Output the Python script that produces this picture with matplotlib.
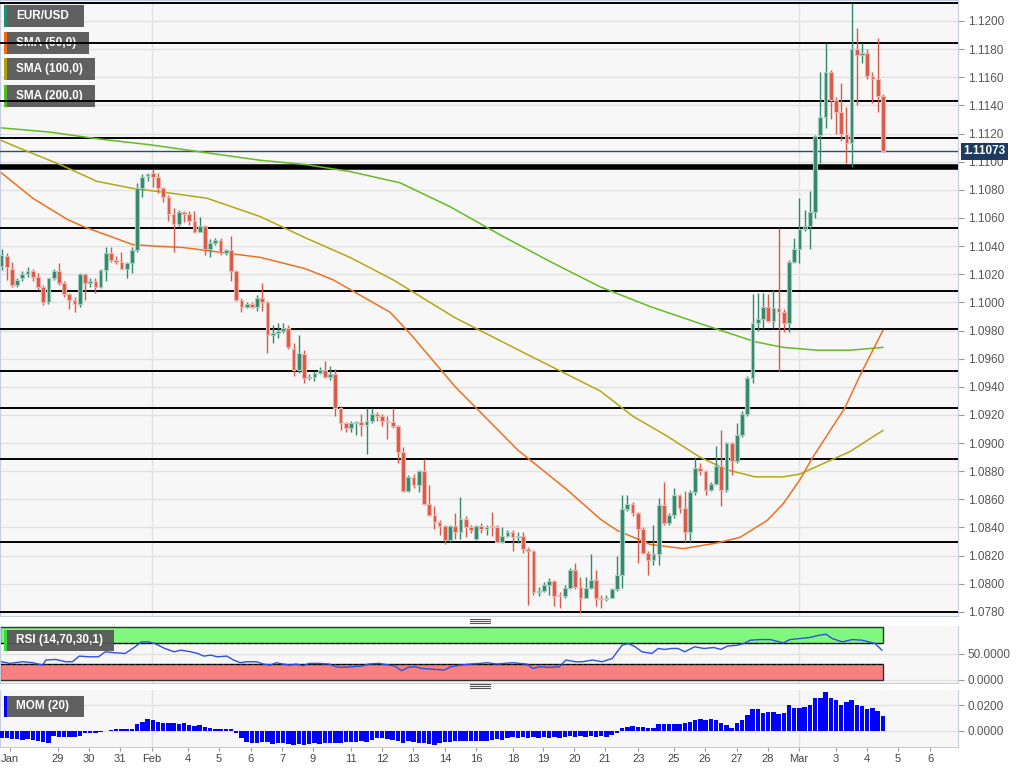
import matplotlib
matplotlib.use('Agg')
import matplotlib.pyplot as plt
import matplotlib.transforms as mtransforms
from matplotlib.patches import Rectangle
from matplotlib.lines import Line2D

plt.rcParams['font.family'] = ['Liberation Sans', 'DejaVu Sans']

# EUR/USD 4h candles (open, high, low, close)
opens = [1.1026, 1.1033, 1.1024, 1.1012, 1.1017, 1.1020, 1.1022, 1.1018, 1.1011, 1.1000,
         1.1017, 1.1022, 1.1014, 1.1006, 1.1002, 1.0999, 1.1020, 1.1014, 1.1015, 1.1011,
         1.1023, 1.1035, 1.1030, 1.1029, 1.1024, 1.1028, 1.1037, 1.1081, 1.1090, 1.1092,
         1.1089, 1.1081, 1.1075, 1.1063, 1.1056, 1.1064, 1.1063, 1.1058, 1.1050, 1.1054,
         1.1038, 1.1042, 1.1044, 1.1035, 1.1037, 1.1022, 1.1002, 1.0997, 1.0999, 1.0997,
         1.1003, 1.1000, 1.0977, 1.0978, 1.0980, 1.0982, 1.0967, 1.0952, 1.0963, 1.0946,
         1.0947, 1.0950, 1.0952, 1.0947, 1.0949, 1.0925, 1.0914, 1.0911, 1.0914, 1.0915,
         1.0913, 1.0916, 1.0921, 1.0919, 1.0916, 1.0915, 1.0912, 1.0894, 1.0866, 1.0876,
         1.0870, 1.0880, 1.0857, 1.0849, 1.0844, 1.0841, 1.0831, 1.0841, 1.0837, 1.0846,
         1.0840, 1.0832, 1.0841, 1.0839, 1.0841, 1.0840, 1.0830, 1.0834, 1.0837, 1.0833,
         1.0834, 1.0825, 1.0823, 1.0794, 1.0795, 1.0799, 1.0802, 1.0792, 1.0791, 1.0797,
         1.0810, 1.0798, 1.0790, 1.0797, 1.0803, 1.0790, 1.0789, 1.0790, 1.0796, 1.0806,
         1.0853, 1.0857, 1.0850, 1.0839, 1.0822, 1.0817, 1.0821, 1.0856, 1.0843, 1.0849,
         1.0863, 1.0854, 1.0837, 1.0865, 1.0882, 1.0880, 1.0867, 1.0871, 1.0884, 1.0867,
         1.0900, 1.0887, 1.0906, 1.0921, 1.0946, 1.0985, 1.0988, 1.0997, 1.0987, 1.0996,
         1.0993, 1.0985, 1.1029, 1.1038, 1.1052, 1.1054, 1.1064, 1.1119, 1.1132, 1.1164,
         1.1144, 1.1135, 1.1120, 1.1113, 1.1180, 1.1176, 1.1177, 1.1161, 1.1159, 1.1147]
highs = [1.1038, 1.1035, 1.1029, 1.1017, 1.1022, 1.1025, 1.1024, 1.1021, 1.1012, 1.1017,
         1.1024, 1.1028, 1.1015, 1.1007, 1.1004, 1.1021, 1.1021, 1.1017, 1.1017, 1.1024,
         1.1039, 1.1039, 1.1033, 1.1036, 1.1029, 1.1039, 1.1085, 1.1091, 1.1092, 1.1095,
         1.1092, 1.1082, 1.1076, 1.1067, 1.1066, 1.1065, 1.1065, 1.1065, 1.1061, 1.1055,
         1.1045, 1.1046, 1.1046, 1.1038, 1.1047, 1.1023, 1.1003, 1.1000, 1.1000, 1.1005,
         1.1014, 1.1001, 1.0984, 1.0985, 1.0985, 1.0984, 1.0971, 1.0977, 1.0966, 1.0949,
         1.0951, 1.0954, 1.0958, 1.0955, 1.0953, 1.0926, 1.0915, 1.0916, 1.0916, 1.0921,
         1.0925, 1.0925, 1.0922, 1.0921, 1.0919, 1.0925, 1.0913, 1.0897, 1.0877, 1.0878,
         1.0881, 1.0889, 1.0870, 1.0855, 1.0845, 1.0842, 1.0842, 1.0850, 1.0862, 1.0848,
         1.0842, 1.0842, 1.0843, 1.0842, 1.0851, 1.0842, 1.0840, 1.0838, 1.0838, 1.0837,
         1.0837, 1.0826, 1.0824, 1.0798, 1.0801, 1.0804, 1.0803, 1.0794, 1.0799, 1.0811,
         1.0815, 1.0805, 1.0805, 1.0821, 1.0810, 1.0792, 1.0792, 1.0797, 1.0820, 1.0863,
         1.0863, 1.0858, 1.0851, 1.0840, 1.0823, 1.0842, 1.0861, 1.0872, 1.0850, 1.0868,
         1.0864, 1.0866, 1.0867, 1.0890, 1.0886, 1.0881, 1.0872, 1.0898, 1.0909, 1.0901,
         1.0901, 1.0914, 1.0923, 1.0948, 1.1006, 1.1007, 1.1007, 1.1006, 1.1009, 1.1053,
         1.0995, 1.1030, 1.1046, 1.1074, 1.1066, 1.1079, 1.1119, 1.1164, 1.1184, 1.1165,
         1.1146, 1.1156, 1.1139, 1.1213, 1.1195, 1.1184, 1.1180, 1.1164, 1.1188, 1.1148]
lows = [1.1023, 1.1016, 1.1011, 1.1011, 1.1015, 1.1018, 1.1015, 1.1009, 1.0998, 1.0999,
        1.1016, 1.1012, 1.1004, 1.0995, 1.0993, 1.0997, 1.1002, 1.1011, 1.1007, 1.1010,
        1.1015, 1.1029, 1.1027, 1.1024, 1.1017, 1.1021, 1.1036, 1.1075, 1.1086, 1.1082,
        1.1078, 1.1071, 1.1058, 1.1036, 1.1054, 1.1057, 1.1055, 1.1049, 1.1050, 1.1034,
        1.1032, 1.1041, 1.1034, 1.1034, 1.1015, 1.1001, 1.0993, 1.0996, 1.0996, 1.0994,
        1.0994, 1.0964, 1.0971, 1.0975, 1.0978, 1.0967, 1.0948, 1.0950, 1.0943, 1.0945,
        1.0944, 1.0949, 1.0946, 1.0945, 1.0919, 1.0909, 1.0908, 1.0908, 1.0906, 1.0905,
        1.0892, 1.0914, 1.0916, 1.0912, 1.0903, 1.0911, 1.0886, 1.0865, 1.0865, 1.0868,
        1.0865, 1.0856, 1.0848, 1.0839, 1.0835, 1.0828, 1.0830, 1.0832, 1.0832, 1.0833,
        1.0836, 1.0831, 1.0836, 1.0835, 1.0834, 1.0830, 1.0829, 1.0833, 1.0823, 1.0829,
        1.0822, 1.0785, 1.0792, 1.0791, 1.0794, 1.0792, 1.0784, 1.0783, 1.0790, 1.0796,
        1.0796, 1.0779, 1.0790, 1.0796, 1.0784, 1.0783, 1.0788, 1.0790, 1.0795, 1.0797,
        1.0852, 1.0848, 1.0815, 1.0821, 1.0806, 1.0813, 1.0813, 1.0842, 1.0842, 1.0847,
        1.0850, 1.0830, 1.0830, 1.0863, 1.0877, 1.0863, 1.0866, 1.0870, 1.0855, 1.0865,
        1.0877, 1.0886, 1.0904, 1.0919, 1.0943, 1.0980, 1.0982, 1.0986, 1.0982, 1.0951,
        1.0979, 1.0979, 1.1028, 1.1028, 1.1051, 1.1038, 1.1060, 1.1099, 1.1124, 1.1130,
        1.1120, 1.1115, 1.1099, 1.1096, 1.1140, 1.1170, 1.1159, 1.1142, 1.1135, 1.1107]
closes = [1.1034, 1.1025, 1.1012, 1.1016, 1.1020, 1.1022, 1.1018, 1.1011, 1.1000, 1.1017,
          1.1022, 1.1014, 1.1006, 1.1002, 1.0999, 1.1020, 1.1014, 1.1015, 1.1011, 1.1023,
          1.1035, 1.1030, 1.1029, 1.1024, 1.1028, 1.1037, 1.1081, 1.1089, 1.1091, 1.1089,
          1.1081, 1.1075, 1.1063, 1.1056, 1.1064, 1.1063, 1.1058, 1.1050, 1.1054, 1.1038,
          1.1042, 1.1044, 1.1035, 1.1037, 1.1022, 1.1002, 1.0997, 1.0999, 1.0997, 1.1003,
          1.1000, 1.0977, 1.0978, 1.0980, 1.0982, 1.0968, 1.0952, 1.0964, 1.0946, 1.0947,
          1.0950, 1.0952, 1.0947, 1.0949, 1.0925, 1.0914, 1.0911, 1.0914, 1.0915, 1.0913,
          1.0916, 1.0921, 1.0919, 1.0916, 1.0915, 1.0912, 1.0894, 1.0866, 1.0876, 1.0870,
          1.0880, 1.0857, 1.0849, 1.0844, 1.0841, 1.0831, 1.0841, 1.0837, 1.0846, 1.0840,
          1.0838, 1.0841, 1.0839, 1.0840, 1.0840, 1.0830, 1.0834, 1.0837, 1.0833, 1.0834,
          1.0825, 1.0823, 1.0794, 1.0795, 1.0799, 1.0802, 1.0791, 1.0791, 1.0797, 1.0810,
          1.0798, 1.0790, 1.0797, 1.0803, 1.0790, 1.0789, 1.0790, 1.0796, 1.0806, 1.0853,
          1.0857, 1.0850, 1.0839, 1.0822, 1.0817, 1.0821, 1.0856, 1.0843, 1.0849, 1.0863,
          1.0854, 1.0837, 1.0865, 1.0882, 1.0880, 1.0867, 1.0871, 1.0884, 1.0867, 1.0900,
          1.0887, 1.0906, 1.0921, 1.0946, 1.0985, 1.0988, 1.0997, 1.0987, 1.0996, 1.0993,
          1.0985, 1.1029, 1.1038, 1.1052, 1.1054, 1.1064, 1.1118, 1.1132, 1.1164, 1.1144,
          1.1135, 1.1120, 1.1113, 1.1180, 1.1176, 1.1177, 1.1161, 1.1159, 1.1147, 1.11073]

# moving averages at candle positions
sma50_x = [0, 6, 12.6, 15.6, 20.8, 25.2, 29.4, 34.8, 43.2, 49.6, 58.2, 63.6, 74.5, 78.3,
           87, 99, 108.4, 114.8, 118, 124.4, 130.7, 137.2, 141.6, 146.8, 149.9, 153.1,
           155.4, 161.7, 165, 169]
sma50 = [1.1092, 1.1074, 1.1059, 1.1054, 1.1047, 1.1041, 1.1040, 1.1039, 1.1035, 1.1032,
         1.1024, 1.1016, 1.0993, 1.0978, 1.0940, 1.0895, 1.0867, 1.0846, 1.0838, 1.0828,
         1.0825, 1.0829, 1.0833, 1.0845, 1.0857, 1.0874, 1.0889, 1.0925, 1.0951, 1.0980]
sma100_x = [0, 4.5, 11.2, 18.3, 25.2, 31.7, 39.4, 49.6, 58.2, 66.8, 75.1, 87, 100.8,
            114.8, 121.1, 127.6, 133.9, 139.1, 144.5, 149.9, 153.1, 162.7, 169]
sma100 = [1.1115, 1.1108, 1.1098, 1.1086, 1.1081, 1.1078, 1.1074, 1.1061, 1.1046, 1.1032,
          1.1016, 1.0989, 1.0963, 1.0937, 1.0919, 1.0905, 1.0890, 1.0881, 1.0876, 1.0876,
          1.0878, 1.0894, 1.0909]
sma200_x = [0, 9.3, 18.9, 28.5, 36.1, 49.6, 58.2, 66.8, 76.4, 86, 95.6, 105.2, 114.8,
            124.4, 133.9, 144.5, 149.9, 156.4, 162.7, 169]
sma200 = [1.1124, 1.1121, 1.1116, 1.1112, 1.1108, 1.1101, 1.1098, 1.1093, 1.1085, 1.1068,
          1.1048, 1.1029, 1.1011, 1.0997, 1.0985, 1.0972, 1.0968, 1.0966, 1.0966, 1.0968]

# horizontal support / resistance lines
levels = [1.1213, 1.1184, 1.1143, 1.1117, 1.1053, 1.1008, 1.0981, 1.0951, 1.0925,
          1.0889, 1.0830, 1.0780]
thick_level = 1.1096
last_price = 1.11073

# RSI (14) line
rsi_x = [0, 1.6, 4.1, 6.0, 7.9, 8.5, 10.4, 12.3, 13.6, 14.9, 16.7, 18.6, 19.9, 21.8, 23.7,
         25.6, 26.8, 28.1, 29.4, 31.3, 33.1, 34.4, 36.3, 37.6, 38.8, 40.1, 41.4, 43.2, 44.5,
         45.8, 47.0, 48.9, 50.2, 51.5, 52.7, 54.0, 55.2, 56.5, 57.8, 59.0, 60.9, 62.8, 64.1,
         65.3, 67.2, 69.1, 70.4, 72.3, 73.5, 75.4, 76.7, 78.0, 79.2, 80.5, 83.0, 84.9, 86.2,
         88.1, 89.9, 91.8, 93.1, 95.0, 96.3, 98.1, 100.7, 101.9, 103.2, 105.1, 107.0, 108.2,
         110.1, 111.4, 113.3, 115.2, 117.1, 119.0, 120.2, 121.5, 122.8, 124.7, 125.9, 127.2,
         128.4, 129.7, 131.0, 132.9, 134.7, 136.6, 137.9, 139.2, 141.1, 142.3, 143.6, 145.5,
         147.4, 149.9, 151.2, 153.0, 154.9, 156.8, 158.1, 159.3, 161.2, 163.1, 165.0, 166.3,
         167.5, 168.8]
rsi_vals = [34.6, 31.5, 34.6, 32.7, 28.3, 37.8, 39.0, 34.6, 34.6, 45.3, 44.0, 44.0, 53.5,
            51.6, 50.3, 62.9, 72.3, 72.3, 69.2, 59.8, 53.5, 56.6, 53.5, 50.3, 45.3, 47.2,
            44.0, 45.3, 37.8, 32.7, 34.6, 34.6, 30.2, 28.3, 32.7, 30.2, 28.3, 30.2, 27.0,
            31.5, 31.5, 30.2, 25.2, 23.9, 25.2, 26.4, 30.2, 31.5, 29.6, 26.4, 17.6, 23.9,
            25.2, 22.0, 20.1, 18.9, 25.2, 28.3, 30.2, 31.5, 32.7, 30.2, 31.5, 32.7, 30.2,
            22.0, 25.2, 23.9, 25.2, 37.8, 34.6, 34.6, 37.8, 34.6, 40.9, 66.0, 69.2, 62.9,
            53.5, 50.3, 59.8, 57.9, 59.8, 59.8, 53.5, 62.9, 59.8, 61.6, 57.9, 64.2, 66.0,
            69.2, 75.5, 76.7, 76.7, 70.5, 76.7, 78.6, 80.5, 84.9, 86.8, 78.6, 72.3, 76.7,
            75.5, 72.3, 69.2, 56.6]

# MOM (20)
mom_vals = [-0.0055, -0.0060, -0.0067, -0.0067, -0.0073, -0.0067, -0.0073, -0.0078, -0.0085, -0.0093,
            -0.0041, -0.0047, -0.0047, -0.0052, -0.0052, -0.0041, -0.0016, -0.0016, -0.0016, -0.0008,
            -0.0002, 0.0005, 0.0010, 0.0016, 0.0013, 0.0016, 0.0052, 0.0070, 0.0088, 0.0083,
            0.0070, 0.0062, 0.0062, 0.0057, 0.0052, 0.0062, 0.0044, 0.0036, 0.0044, 0.0031,
            0.0018, 0.0016, 0.0010, 0.0013, 0.0010, -0.0021, -0.0060, -0.0085, -0.0093, -0.0093,
            -0.0088, -0.0085, -0.0104, -0.0093, -0.0098, -0.0104, -0.0111, -0.0104, -0.0111, -0.0104,
            -0.0098, -0.0104, -0.0098, -0.0093, -0.0093, -0.0093, -0.0085, -0.0091, -0.0085, -0.0078,
            -0.0085, -0.0073, -0.0060, -0.0060, -0.0067, -0.0073, -0.0078, -0.0093, -0.0078, -0.0088,
            -0.0098, -0.0098, -0.0104, -0.0111, -0.0098, -0.0091, -0.0085, -0.0080, -0.0080, -0.0078,
            -0.0080, -0.0078, -0.0078, -0.0080, -0.0073, -0.0067, -0.0073, -0.0060, -0.0052, -0.0060,
            -0.0052, -0.0060, -0.0052, -0.0060, -0.0052, -0.0054, -0.0047, -0.0060, -0.0047, -0.0041,
            -0.0047, -0.0041, -0.0047, -0.0041, -0.0047, -0.0041, -0.0047, -0.0036, -0.0016, 0.0018,
            0.0031, 0.0036, 0.0031, 0.0026, 0.0018, 0.0023, 0.0052, 0.0052, 0.0052, 0.0052,
            0.0052, 0.0057, 0.0070, 0.0083, 0.0088, 0.0083, 0.0088, 0.0083, 0.0057, 0.0044,
            0.0018, 0.0057, 0.0083, 0.0122, 0.0166, 0.0166, 0.0140, 0.0148, 0.0148, 0.0130,
            0.0135, 0.0199, 0.0174, 0.0174, 0.0186, 0.0199, 0.0251, 0.0251, 0.0303, 0.0251,
            0.0243, 0.0199, 0.0225, 0.0238, 0.0199, 0.0192, 0.0166, 0.0174, 0.0155, 0.0114]

# date labels (candle positions)
tick_pos = [1.6, 10.8, 16.8, 22.7, 28.9, 35.8, 41.7, 47.8, 53.8, 59.7, 67.0, 73.0, 78.9,
            85.0, 91.0, 98.1, 103.8, 109.8, 115.7, 122.1, 128.9, 134.9, 141.0, 146.9,
            152.9, 160.0, 165.9, 171.9, 178.1]
tick_labels = ['Jan', '29', '30', '31', 'Feb', '4', '5', '6', '7', '9', '11', '12', '13',
               '14', '16', '18', '19', '20', '21', '23', '25', '26', '27', '28', 'Mar',
               '3', '4', '5', '6']
month_pos = [28.9, 152.9]

W, H = 1031, 772
UP, DOWN = '#34876c', '#d95a49'
UP_EDGE, DOWN_EDGE = '#a3cdbd', '#f0b4ab'
SPINE = '#c5cde0'
BG = '#f7f7f7'

fig = plt.figure(figsize=(W / 100, H / 100), dpi=100)
ax_w = 958 / W
ax = fig.add_axes([0, 1 - 616 / H, ax_w, 616 / H])
ax_rsi = fig.add_axes([0, 1 - 683 / H, ax_w, 57 / H])
ax_mom = fig.add_axes([0, 1 - 747 / H, ax_w, 57 / H])

xlim = (-0.29, 183.4)
for a in (ax, ax_rsi, ax_mom):
    a.set_facecolor(BG)
    a.set_xlim(*xlim)
    a.yaxis.tick_right()
    a.tick_params(axis='y', direction='out', length=4, color='#999999',
                  labelsize=8.5, labelcolor='#555555', pad=3)
    a.set_axisbelow(True)
    for s in a.spines.values():
        s.set_color(SPINE)
    a.spines['top'].set_visible(False)
    for m in month_pos:
        a.axvline(m, color='#e2e2e2', lw=1, zorder=0.5)
    a.grid(axis='y', color='#e2e2e2', lw=1)
ax.spines['top'].set_visible(True)

# ---- main price panel ----
ax.set_ylim(1.07771, 1.12149)
ax.set_yticks([round(1.078 + 0.002 * k, 4) for k in range(22)])
ax.set_yticklabels(['%.4f' % (1.078 + 0.002 * k) for k in range(22)])
ax.set_xticks([])

for lv in levels:
    ax.axhline(lv, color='black', lw=1.4, zorder=3)
ax.axhline(thick_level, color='black', lw=4, zorder=3)
ax.axhline(last_price, color='#2b4a72', lw=1, zorder=3)

ax.plot(sma200_x, sma200, color='#66bb22', lw=1.1, zorder=3.5)
ax.plot(sma100_x, sma100, color='#b5a614', lw=1.1, zorder=3.5)
ax.plot(sma50_x, sma50, color='#f07020', lw=1.1, zorder=3.5)

idx = list(range(len(closes)))
cols = [UP if c >= o else DOWN for o, c in zip(opens, closes)]
edges = [UP_EDGE if c >= o else DOWN_EDGE for o, c in zip(opens, closes)]
ax.vlines(idx, lows, highs, colors=cols, lw=1, zorder=4)
bottoms = [min(o, c) for o, c in zip(opens, closes)]
heights = [max(abs(c - o), 0.00004) for o, c in zip(opens, closes)]
ax.bar(idx, heights, bottom=bottoms, width=0.72, color=cols, edgecolor=edges,
       linewidth=0.8, zorder=5)

trans = mtransforms.blended_transform_factory(ax.transAxes, ax.transData)
ax.text(1.006, last_price, '1.11073', transform=trans, ha='left', va='center',
        color='white', fontsize=8.5, fontweight='bold', zorder=10, clip_on=False,
        bbox=dict(boxstyle='square,pad=0.22', fc='#1f3a60', ec='none'))


def label_box(a, top_px, h_px, x, y, w, h, bar_color, text):
    # box given in pixels relative to the top-left of axes a
    aw = 958.0
    fx, fy = x / aw, 1 - (y + h) / h_px
    a.add_patch(Rectangle((fx, fy), w / aw, h / h_px, transform=a.transAxes,
                          fc='#585858', ec='none', alpha=0.95, zorder=2.6))
    a.add_patch(Rectangle((fx, fy), 3 / aw, h / h_px, transform=a.transAxes,
                          fc=bar_color, ec='none', zorder=2.7))
    a.text((x + 12) / aw, 1 - (y + h / 2) / h_px, text, transform=a.transAxes,
           ha='left', va='center', color='white', fontsize=8.5, fontweight='bold',
           zorder=2.8)


label_box(ax, 0, 616, 4, 5, 80, 22, '#2a8a70', 'EUR/USD')
label_box(ax, 0, 616, 4, 32, 85, 22, '#f06a10', 'SMA (50,0)')
label_box(ax, 0, 616, 4, 58, 91, 22, '#b0a010', 'SMA (100,0)')
label_box(ax, 0, 616, 4, 85, 91, 22, '#55bb22', 'SMA (200,0)')

# ---- RSI panel ----
ax_rsi.set_ylim(-5.7, 102.4)
ax_rsi.set_yticks([0, 50])
ax_rsi.set_yticklabels(['0.0000', '50.0000'])
ax_rsi.set_xticks([])
band_end = len(closes) - 0.9
ax_rsi.add_patch(Rectangle((xlim[0], 70), band_end - xlim[0], 30, fc='#80f880',
                           ec='#333333', lw=1, zorder=1))
ax_rsi.add_patch(Rectangle((xlim[0], 0), band_end - xlim[0], 30, fc='#f88080',
                           ec='#333333', lw=1, zorder=1))
ax_rsi.hlines([70, 30], xlim[0], band_end, colors='black', lw=0.8,
              linestyles='dashed', zorder=1.5)
ax_rsi.plot(rsi_x, rsi_vals, color='#3050e0', lw=1, zorder=3)
label_box(ax_rsi, 626, 57, 4, 4, 110, 21, '#33dd33', 'RSI (14,70,30,1)')

# ---- MOM panel ----
ax_mom.set_ylim(-0.01268, 0.0317)
ax_mom.set_yticks([0, 0.02])
ax_mom.set_yticklabels(['0.0000', '0.0200'])
ax_mom.bar(idx, mom_vals, width=0.85, color='#0000ff', zorder=3)
label_box(ax_mom, 690, 57, 4, 6, 80, 21, '#0000ff', 'MOM (20)')
ax_mom.set_xticks(tick_pos)
ax_mom.set_xticklabels(tick_labels)
ax_mom.tick_params(axis='x', length=3, color='#999999', labelsize=8,
                   labelcolor='#444444', pad=2)

# panel resize handles
for yc in (621, 686):
    for dy in (-2, 0, 2):
        fig.add_artist(Line2D([470 / W, 490 / W], [1 - (yc + dy) / H] * 2,
                              color='#555555', lw=0.8))

fig.savefig('out.png', dpi=100, facecolor='white')
